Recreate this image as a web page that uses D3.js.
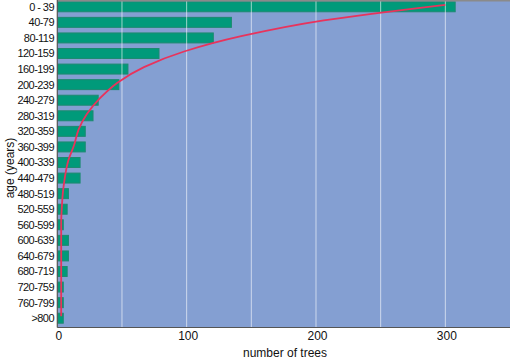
<!DOCTYPE html>
<html>
<head>
<meta charset="utf-8">
<script src="https://cdn.jsdelivr.net/npm/d3@7"></script>
<style>
html,body{margin:0;padding:0;background:#fff;}
svg{display:block;font-family:"Liberation Sans",Arial,Helvetica,sans-serif;}
</style>
</head>
<body>
<svg id="chart" width="510" height="359"></svg>
<script>
const categories = ["0 - 39","40-79","80-119","120-159","160-199","200-239","240-279","280-319","320-359","360-399","400-339","440-479","480-519","520-559","560-599","600-639","640-679","680-719","720-759","760-799",">800"];
const counts = [308,135,121,79,55,48,32,28,22,22,18,18,9,8,5,9,9,8,5,5,5];
const fitted = [300,206,143,98,67,46.5,33,23,16.5,13,8.5,6,4.4,3.5,3,3,3,3,3,3,3];
const xTicks = [0,100,200,300];
const gridValues = [50,100,150,200,250,300];

const svg = d3.select("#chart");
const L = 57.3, R = 510, T = 0, B = 327.5;

const x = d3.scaleLinear().domain([0,350]).range([L, R]);
const y = d3.scaleBand().domain(categories).range([-1, 326]).paddingInner(0.36).paddingOuter(0.18);

// background
svg.append("rect").attr("x", L).attr("y", T).attr("width", R-L).attr("height", B-T).attr("fill", "#849fd2");

// bars
svg.append("g").selectAll("rect").data(categories).join("rect")
  .attr("x", x(0)+0.5)
  .attr("y", d => y(d))
  .attr("width", (d,i) => Math.max(0, x(counts[i]) - x(0) - 1))
  .attr("height", y.bandwidth())
  .attr("fill", "#009a7a")
  .attr("stroke", "#1d8a70")
  .attr("stroke-width", 1);

// grid lines (over bars)
svg.append("g").selectAll("line").data(gridValues).join("line")
  .attr("x1", d => x(d)).attr("x2", d => x(d))
  .attr("y1", T).attr("y2", B)
  .attr("stroke", "#ffffff").attr("stroke-opacity", 0.6).attr("stroke-width", 1);

// top border
svg.append("line").attr("x1", L).attr("x2", R).attr("y1", 0.7).attr("y2", 0.7)
  .attr("stroke", "#8a8a8a").attr("stroke-width", 1.6);

// fitted curve
const line = d3.line()
  .x((d,i) => x(d))
  .y((d,i) => y(categories[i]) + y.bandwidth()*0.3)
  .curve(d3.curveMonotoneY);
svg.append("path").datum(fitted).attr("d", line)
  .attr("fill", "none").attr("stroke", "#e8335c").attr("stroke-width", 1.8);

// axes lines
svg.append("line").attr("x1", L).attr("x2", L).attr("y1", 0).attr("y2", B)
  .attr("stroke", "#555").attr("stroke-width", 1.2);
svg.append("line").attr("x1", L).attr("x2", R).attr("y1", B).attr("y2", B)
  .attr("stroke", "#555").attr("stroke-width", 1.2);

// category labels
svg.append("g").selectAll("text").data(categories).join("text")
  .attr("x", 54)
  .attr("y", d => y(d) + y.bandwidth()/2)
  .attr("dy", "0.36em")
  .attr("text-anchor", "end")
  .attr("font-size", 11)
  .attr("letter-spacing", -0.55)
  .attr("fill", "#111")
  .text(d => d);

// x tick labels
svg.append("g").selectAll("text").data(xTicks).join("text")
  .attr("x", d => x(d) + 1.5)
  .attr("y", 339.5)
  .attr("text-anchor", "middle")
  .attr("font-size", 12)
  .attr("fill", "#111")
  .text(d => d);

svg.append("text").attr("x", 285).attr("y", 356.5)
  .attr("text-anchor", "middle").attr("font-size", 12).attr("fill", "#111")
  .text("number of trees");

svg.append("text")
  .attr("transform", "translate(14,168) rotate(-90)")
  .attr("text-anchor", "middle").attr("font-size", 12).attr("fill", "#111")
  .text("age (years)");
</script>
</body>
</html>
